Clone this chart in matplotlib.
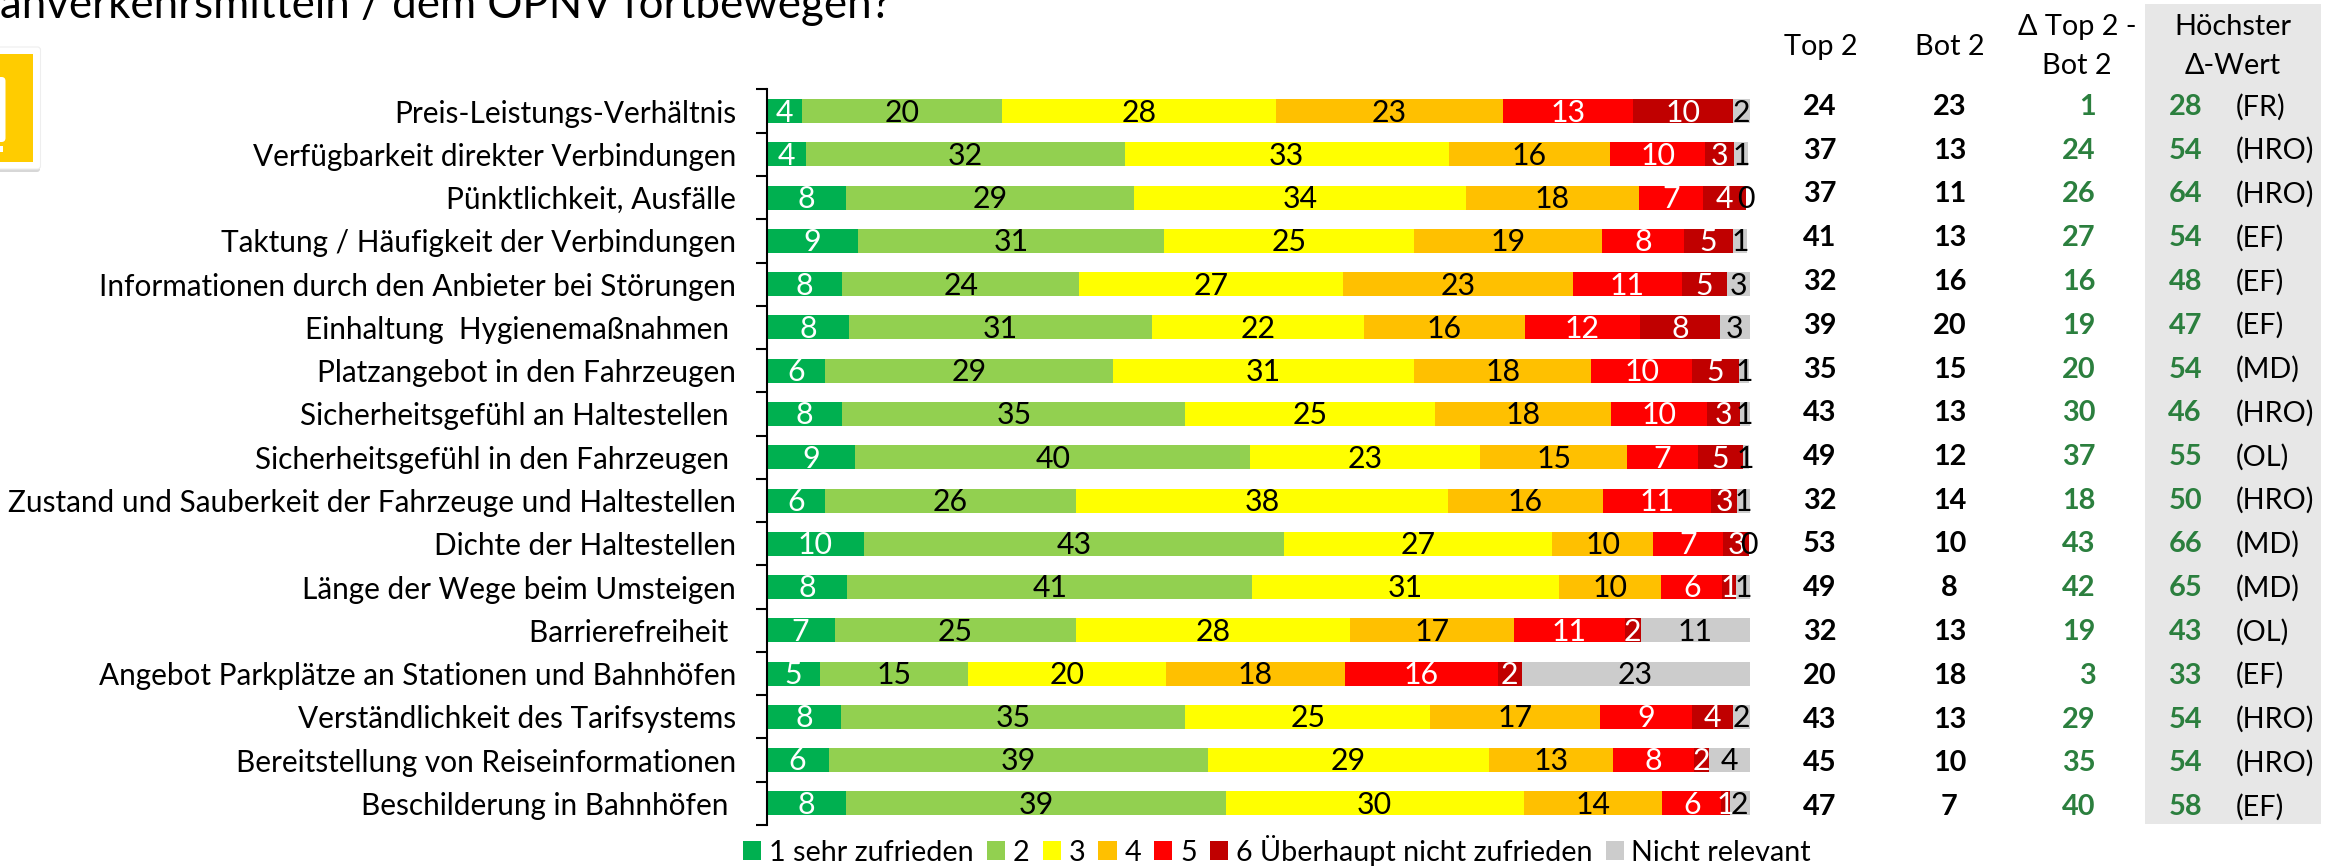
import matplotlib
matplotlib.use("Agg")
import matplotlib.pyplot as plt
from matplotlib.patches import FancyBboxPatch, Rectangle

plt.rcParams['font.family'] = ['Lato', 'DejaVu Sans']

kategorien = [
    "Preis-Leistungs-Verhältnis",
    "Verfügbarkeit direkter Verbindungen",
    "Pünktlichkeit, Ausfälle",
    "Taktung / Häufigkeit der Verbindungen",
    "Informationen durch den Anbieter bei Störungen",
    "Einhaltung  Hygienemaßnahmen ",
    "Platzangebot in den Fahrzeugen",
    "Sicherheitsgefühl an Haltestellen ",
    "Sicherheitsgefühl in den Fahrzeugen ",
    "Zustand und Sauberkeit der Fahrzeuge und Haltestellen",
    "Dichte der Haltestellen",
    "Länge der Wege beim Umsteigen",
    "Barrierefreiheit ",
    "Angebot Parkplätze an Stationen und Bahnhöfen",
    "Verständlichkeit des Tarifsystems",
    "Bereitstellung von Reiseinformationen",
    "Beschilderung in Bahnhöfen ",
]

note_1 = [3.6, 4.0, 8.1, 9.3, 7.7, 8.4, 5.9, 7.7, 9.0, 5.9, 9.9, 8.2, 6.9, 5.4, 7.6, 6.3, 8.1]
note_2 = [20.3, 32.4, 29.3, 31.1, 24.1, 30.8, 29.3, 34.9, 40.2, 25.6, 42.7, 41.2, 24.6, 15.1, 35.0, 38.6, 38.6]
note_3 = [27.9, 33.0, 33.7, 25.4, 26.8, 21.6, 30.7, 25.4, 23.4, 37.8, 27.3, 31.2, 27.8, 20.1, 24.9, 28.6, 30.3]
note_4 = [23.1, 16.4, 17.6, 19.2, 23.4, 16.3, 18.0, 17.9, 14.9, 15.8, 10.3, 10.4, 16.7, 18.2, 17.3, 12.6, 14.1]
note_5 = [13.2, 9.7, 6.6, 8.3, 11.1, 11.7, 10.2, 9.8, 7.2, 11.0, 7.1, 6.2, 11.3, 15.6, 9.3, 8.2, 6.0]
note_6 = [10.2, 2.9, 4.3, 5.0, 4.6, 8.2, 4.8, 3.3, 4.6, 2.6, 2.65, 1.4, 1.6, 2.4, 4.2, 1.6, 0.9]
nicht_relevant = [1.7, 1.4, 0, 1.4, 2.6, 3.0, 1.0, 1.0, 0.6, 1.4, 0, 1.4, 11.1, 23.3, 1.8, 4.2, 2.1]

top2 = [24, 37, 37, 41, 32, 39, 35, 43, 49, 32, 53, 49, 32, 20, 43, 45, 47]
bot2 = [23, 13, 11, 13, 16, 20, 15, 13, 12, 14, 10, 8, 13, 18, 13, 10, 7]
delta = [1, 24, 26, 27, 16, 19, 20, 30, 37, 18, 43, 42, 19, 3, 29, 35, 40]
hoechster = [28, 54, 64, 54, 48, 47, 54, 46, 55, 50, 66, 65, 43, 33, 54, 54, 58]
staedte = ["FR", "HRO", "HRO", "EF", "EF", "EF", "MD", "HRO", "OL", "HRO", "MD", "MD", "OL", "EF", "HRO", "HRO", "EF"]

serien = [note_1, note_2, note_3, note_4, note_5, note_6, nicht_relevant]
legende = ["1 sehr zufrieden", "2", "3", "4", "5", "6 Überhaupt nicht zufrieden", "Nicht relevant"]
farben = ["#00B050", "#92D050", "#FFFF00", "#FFC000", "#FF0000", "#C00000", "#CCCCCC"]
textfarben = ["white", "black", "black", "black", "white", "white", "black"]

B, H = 2336, 866
GROESSE = 21.4
TABELLE = 20.8
GRUEN = "#2B7F3E"

fig = plt.figure(figsize=(B / 100, H / 100), dpi=100)

# Pixel-Ebene fuer alles ausserhalb des Diagramms
pix = fig.add_axes([0, 0, 1, 1], zorder=0)
pix.set_xlim(0, B)
pix.set_ylim(H, 0)
pix.axis("off")

ax = fig.add_axes([766.7 / B, 1 - 825 / H, 983 / B, 735.5 / H], zorder=1)
ax.patch.set_alpha(0)

zeilen = [i + 0.5 for i in range(len(kategorien))]
links = [0] * len(kategorien)
balken = []
for werte, farbe, name, tf in zip(serien, farben, legende, textfarben):
    c = ax.barh(zeilen, werte, left=links, height=0.555, color=farbe, label=name)
    for t in ax.bar_label(c, fmt="%.0f", label_type="center", color=tf, fontsize=21.8):
        t.xyann = (0, -1)
    links = [a + b for a, b in zip(links, werte)]
    balken.append(c)

ax.set_xlim(0, 100)
ax.set_ylim(len(kategorien), 0)
ax.set_yticks(range(len(kategorien) + 1))
ax.set_yticklabels([])
ax.set_yticks(zeilen, labels=kategorien, minor=True)
ax.tick_params(axis="y", which="major", length=8, width=1.5)
ax.tick_params(axis="y", which="minor", length=0, pad=22, labelsize=GROESSE)
ax.xaxis.set_visible(False)
for s in ["top", "right", "bottom"]:
    ax.spines[s].set_visible(False)
ax.spines["left"].set_linewidth(1.5)

fig.legend(handles=balken, loc="lower left", bbox_to_anchor=(743 / B, 1 - 866 / H), ncols=7,
           frameon=False, fontsize=20.7, borderpad=0, borderaxespad=0, handlelength=0.63,
           handleheight=0.63, handletextpad=0.27, columnspacing=0.46)

# Titel (oben abgeschnitten)
pix.text(0, 18, "anverkehrsmitteln / dem ÖPNV fortbewegen?", fontsize=31.6, va="baseline", ha="left")

# Logo am linken Rand
pix.add_patch(FancyBboxPatch((-20, 50), 60, 122, boxstyle="round,pad=0,rounding_size=3", fc="#BDBDBD", ec="none", alpha=0.6))
pix.add_patch(FancyBboxPatch((-20, 47), 60.5, 122, boxstyle="round,pad=0,rounding_size=3", fc="white", ec="#EEEEEE", lw=0.8))
pix.add_patch(Rectangle((0, 54), 33, 108, fc="#FFCC00", ec="none"))
pix.add_patch(FancyBboxPatch((-10, 77), 15.5, 65, boxstyle="round,pad=0,rounding_size=4", fc="white", ec="none"))
pix.add_patch(Rectangle((0, 146), 3, 6, fc="white", ec="none"))

# Tabelle rechts
pix.add_patch(Rectangle((2145, 3.5), 175.5, 820.5, fc="#E7E7E7", ec="none"))
pix.text(1821, 47, "Top 2", fontsize=TABELLE, ha="center", va="center")
pix.text(1949.5, 47, "Bot 2", fontsize=TABELLE, ha="center", va="center")
pix.text(2077, 27, "Δ Top 2 -", fontsize=TABELLE, ha="center", va="center")
pix.text(2077, 66, "Bot 2", fontsize=TABELLE, ha="center", va="center")
pix.text(2232.5, 27, "Höchster", fontsize=TABELLE, ha="center", va="center")
pix.text(2232.5, 66, "Δ-Wert", fontsize=TABELLE, ha="center", va="center")

for i in range(len(kategorien)):
    y = 107 + 43.75 * i
    pix.text(1820, y, str(top2[i]), fontsize=TABELLE, fontweight="bold", ha="center", va="center")
    pix.text(1949.5, y, str(bot2[i]), fontsize=TABELLE, fontweight="bold", ha="center", va="center")
    pix.text(2095.5, y, str(delta[i]), fontsize=TABELLE, fontweight="bold", color=GRUEN, ha="right", va="center")
    pix.text(2202, y, str(hoechster[i]), fontsize=TABELLE, fontweight="bold", color=GRUEN, ha="right", va="center")
    pix.text(2236, y, "(" + staedte[i] + ")", fontsize=TABELLE, ha="left", va="center")

fig.savefig("out.png", dpi=100)
